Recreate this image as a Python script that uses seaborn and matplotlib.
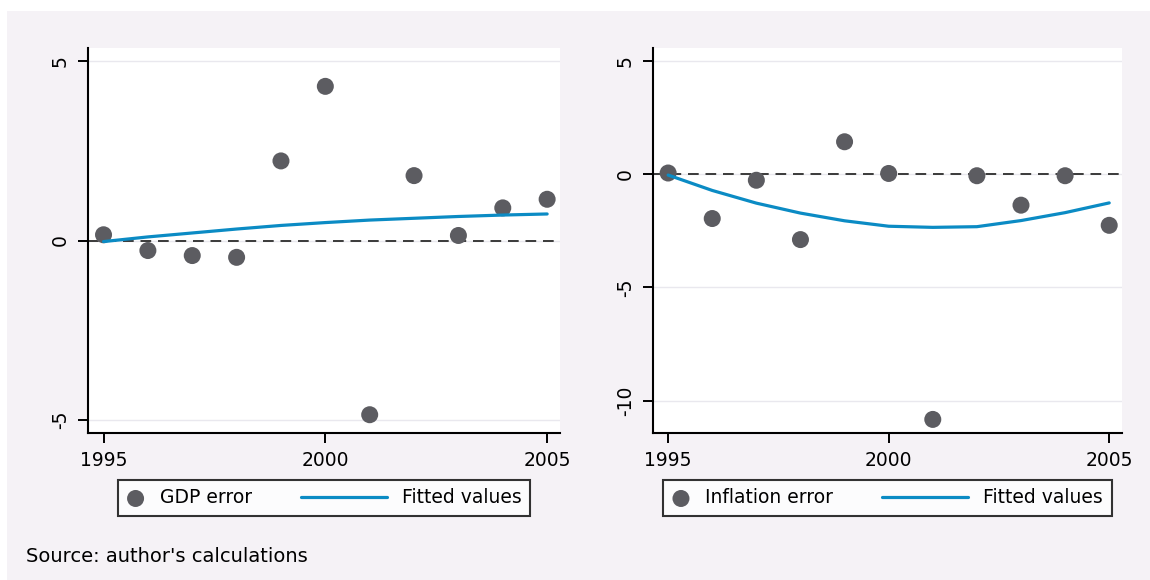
import numpy as np
import pandas as pd
import matplotlib
matplotlib.use("Agg")
import matplotlib.pyplot as plt
import seaborn as sns
from matplotlib.patches import Rectangle
from matplotlib.legend_handler import HandlerPathCollection

# --- data ---
years = [1995, 1996, 1997, 1998, 1999, 2000, 2001, 2002, 2003, 2004, 2005]

gdp_error = [0.16, -0.28, -0.42, -0.47, 2.22, 4.30, -4.86, 1.81, 0.14, 0.91, 1.15]
gdp_fitted = [-0.03, 0.10, 0.21, 0.32, 0.42, 0.50, 0.57, 0.62, 0.67, 0.71, 0.74]

infl_error = [0.05, -1.96, -0.27, -2.89, 1.43, 0.03, -10.83, -0.07, -1.37, -0.07, -2.26]
infl_fitted = [-0.04, -0.72, -1.28, -1.72, -2.06, -2.30, -2.35, -2.32, -2.05, -1.70, -1.27]

x_ticks = [1995, 2000, 2005]
left_yticks = [-5, 0, 5]
right_yticks = [-10, -5, 0, 5]

source_note = "Source: author's calculations"

# --- style ---
BG = "#f5f2f6"
MARKER = "#5c5c61"
BLUE = "#0b8bc4"
TICK_FS = 13.5

sns.set_style("white")
plt.rcParams["font.family"] = ["DejaVu Sans"]
plt.rcParams["text.color"] = "black"
plt.rcParams["xtick.color"] = "black"
plt.rcParams["ytick.color"] = "black"
plt.rcParams["xtick.labelsize"] = TICK_FS
plt.rcParams["ytick.labelsize"] = TICK_FS


class NarrowMarkerHandler(HandlerPathCollection):
    # keep the marker slot narrow, like the Stata legend
    def legend_artist(self, legend, orig_handle, fontsize, handlebox):
        handlebox.width = 1.0 * fontsize
        return super().legend_artist(legend, orig_handle, fontsize, handlebox)


def draw_panel(ax, err, fitted, err_label, yticks, ylim):
    df = pd.DataFrame({"year": years, "err": err, "fit": fitted})
    for yt in yticks:
        ax.axhline(yt, color="#e9e8ee", lw=1.0, zorder=1)
    ax.axhline(0, color="#3a3a3a", lw=1.4, dashes=(5.5, 3.5), zorder=2)
    sns.scatterplot(data=df, x="year", y="err", ax=ax, s=150, color=MARKER,
                    edgecolor="none", label=err_label, zorder=3)
    sns.lineplot(data=df, x="year", y="fit", ax=ax, color=BLUE, lw=2.3,
                 label="Fitted values", zorder=4)

    ax.set_xlim(1994.65, 2005.29)
    ax.set_ylim(*ylim)
    ax.set_xticks(x_ticks)
    ax.set_yticks(yticks)
    ax.tick_params(axis="both", direction="out", length=7, width=1.4, color="black",
                   pad=6, bottom=True, left=True)
    ax.set_xticklabels([str(v) for v in x_ticks], fontsize=TICK_FS, color="black")
    ax.set_yticklabels([str(v) for v in yticks], fontsize=TICK_FS, color="black",
                       rotation=90, va="center")
    ax.set_xlabel("")
    ax.set_ylabel("")
    ax.set_facecolor("white")
    for side in ["top", "right"]:
        ax.spines[side].set_visible(False)
    for side in ["left", "bottom"]:
        ax.spines[side].set_color("black")
        ax.spines[side].set_linewidth(1.5)

    handles, labels = ax.get_legend_handles_labels()
    leg = ax.legend(handles, labels, loc="upper center", bbox_to_anchor=(0.5, -0.122),
                    ncol=2, frameon=True, fancybox=False, edgecolor="black",
                    fontsize=13.5, handlelength=4.6, handletextpad=0.8,
                    columnspacing=2.6, borderpad=0.45, borderaxespad=0,
                    handler_map={type(handles[0]): NarrowMarkerHandler()})
    leg.get_frame().set_linewidth(1.5)
    leg.get_frame().set_facecolor("white")
    for t in leg.get_texts():
        t.set_color("black")


fig = plt.figure(figsize=(11.5, 5.8), dpi=100, facecolor="white")
fig.patches.append(Rectangle((7 / 1150, 0), 1, 1 - 11 / 580, transform=fig.transFigure,
                             facecolor=BG, edgecolor="none", zorder=-10))

ax1 = fig.add_axes([88 / 1150, 147 / 580, 472 / 1150, 385 / 580])
ax2 = fig.add_axes([652.7 / 1150, 147 / 580, 469.3 / 1150, 385 / 580])

draw_panel(ax1, gdp_error, gdp_fitted, "GDP error", left_yticks, (-5.37, 5.37))
draw_panel(ax2, infl_error, infl_fitted, "Inflation error", right_yticks, (-11.43, 5.57))

fig.text(26 / 1150, 23 / 580, source_note, fontsize=14, va="center", ha="left",
         color="black")

fig.savefig("out.png", dpi=100, facecolor=fig.get_facecolor())
